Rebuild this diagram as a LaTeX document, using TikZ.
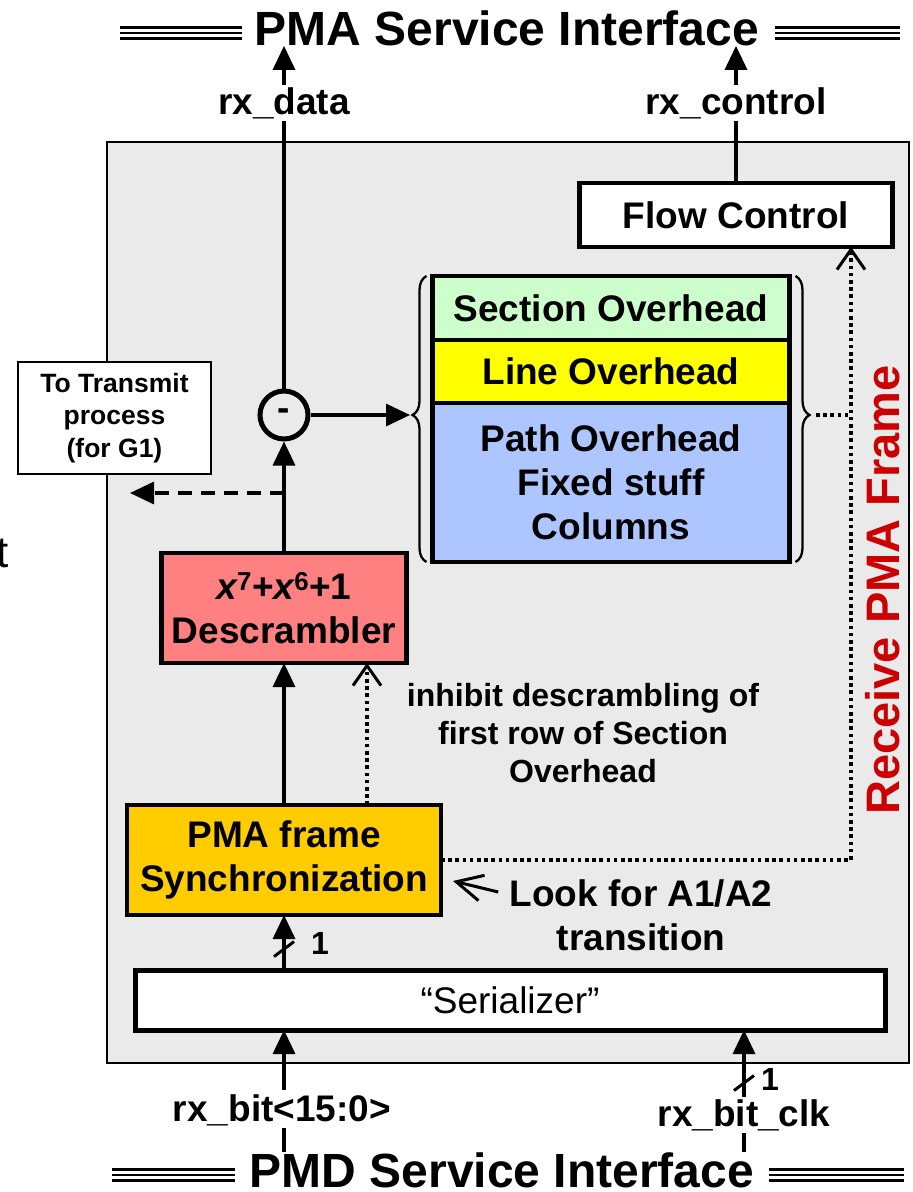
\documentclass[tikz,border=0pt]{standalone}
\usepackage{fontspec}
\setmainfont{Liberation Sans}
\usepackage{tikz}
\usetikzlibrary{arrows.meta,positioning,decorations.pathreplacing}
\definecolor{panel}{HTML}{EAEAEA}
\definecolor{sectbg}{HTML}{CCFFCC}
\definecolor{linebg}{HTML}{FFFF00}
\definecolor{pathbg}{HTML}{ADC6FF}
\definecolor{descbg}{HTML}{FF8080}
\definecolor{syncbg}{HTML}{FFCC00}
\definecolor{rxred}{HTML}{CC0000}
\newcommand{\setfs}[2]{\fontsize{#1}{#2}\selectfont}

\begin{document}
\begin{tikzpicture}[x=1pt,y=-1pt,
  font=\bfseries\setfs{37}{44},
  blk/.style={rectangle, draw, line width=4.5pt, align=center, inner sep=0pt, outer sep=0pt},
  thinbox/.style={rectangle, draw, fill=white, line width=1.8pt, align=center, inner sep=0pt},
  hdr/.style={font=\bfseries\setfs{48}{56}, inner sep=0pt},
  lbl/.style={font=\bfseries\setfs{37}{44}, inner sep=2pt},
  onelbl/.style={font=\bfseries\setfs{32}{38}, inner sep=0pt},
  rule/.style={line width=2.6pt},
  ln/.style={line width=3.3pt},
  arr/.style={ln, -{Triangle[length=24pt,width=22pt]}},
  dasharr/.style={arr, dash pattern=on 14pt off 9pt},
  dotln/.style={line width=3.6pt, dash pattern=on 3.6pt off 3.6pt},
  dotarr/.style={dotln, -{Straight Barb[length=20pt,width=28pt,line width=3pt]}},
  openarr/.style={line width=3pt, -{Straight Barb[length=26pt,width=26pt]}},
  slashln/.style={line width=3pt},
  brc/.style={line width=2.3pt, decorate, decoration={brace, amplitude=14pt}}]

  \useasboundingbox (0,0) rectangle (913,1192);
  % receive panel
  \draw[fill=panel, line width=1.8pt] (107,142) rectangle (909,1063);
  \node[font=\mdseries\setfs{44}{50}, anchor=base east, inner sep=0pt] (tfrag) at (9,567) {t};

  % service interfaces
  \node[hdr] (pma) at (507,28) {PMA Service Interface};
  \node[hdr] (pmd) at (502,1170) {PMD Service Interface};
  \foreach \dy in {0.5,-5,-10.5} {
    \draw[rule] ([xshift=-13pt,yshift=\dy pt]pma.west) -- ++(-122,0);
    \draw[rule] ([xshift=16pt,yshift=\dy pt]pma.east) -- ++(125,0);
    \draw[rule] ([xshift=-15pt,yshift=\dy pt]pmd.west) -- ++(-123,0);
    \draw[rule] ([xshift=15pt,yshift=\dy pt]pmd.east) -- ++(135,0);
  }
  \node[lbl] (rxdata) at (284,103) {rx\_data};
  \node[lbl] (rxctl) at (736,103) {rx\_control};
  \node[lbl] (rxbit) at (282,1110) {rx\_bit<15:0>};
  \node[lbl] (rxclk) at (744,1115) {rx\_bit\_clk};

  % blocks
  \node[blk, fill=white, minimum width=313, minimum height=64] (flow) at (736,215) {Flow Control};
  \node[blk, fill=sectbg, minimum width=357, minimum height=64] (sect) at (611,308) {Section Overhead};
  \node[blk, fill=linebg, minimum width=357, minimum height=63, below=0pt of sect] (lineoh) {Line Overhead};
  \node[blk, fill=pathbg, minimum width=357, minimum height=159, below=0pt of lineoh] (pathoh) {Path Overhead\\Fixed stuff\\Columns};
  \node[circle, draw, line width=5pt, minimum size=48, inner sep=0pt] (minus) at (284,415) {-};
  \node[thinbox, minimum width=193, minimum height=112, font=\bfseries\setfs{26.5}{32.5}] (tx) at (114.5,418) {To Transmit\\process\\(for G1)};
  \node[blk, fill=descbg, minimum width=245, minimum height=110] (desc) at (284,608) {{\itshape x}\textsuperscript{7}+{\itshape x}\textsuperscript{6}+1\\Descrambler};
  \node[blk, fill=syncbg, minimum width=314, minimum height=110] (sync) at (284,860) {PMA frame\\Synchronization};
  \node[blk, line width=5pt, fill=white, minimum width=750, minimum height=60, font=\mdseries\setfs{37}{44}] (ser) at (510,1000) {“Serializer”};
  \node[font=\bfseries\setfs{32}{38}, align=center] (inhibit) at (583,733) {inhibit descrambling of\\first row of Section\\Overhead};
  \node[align=center, inner sep=3pt] (look) at (641,915) {Look for A1/A2\\transition};
  \node[rotate=90, text=rxred, font=\bfseries\setfs{47}{56}] (rxlbl) at (883,590) {Receive PMA Frame};

  % braces round the frame
  \draw[brc, decoration={aspect=0.514}] ([xshift=-6pt]pathoh.south west) -- ([xshift=-6pt]sect.north west);
  \draw[brc, decoration={aspect=0.486}] ([xshift=6pt]sect.north east) -- ([xshift=6pt]pathoh.south east);
  \coordinate (lbtip) at (410,415);
  \coordinate (rbtip) at (816,415);
  \coordinate (bus) at (851,415);
  \coordinate (tap) at (284,493);
  \coordinate (txin) at (130,493);
  \coordinate (looktip) at (453,881);
  \coordinate (bitin) at (284,1090);

  % connectors
  \draw[arr] (rxdata.north) -- (rxdata.north |- pma.south);
  \draw[ln] (rxdata.south) -- (minus.north);
  \draw[arr] (rxctl.north) -- (rxctl.north |- pma.south);
  \draw[ln] (rxctl.south) -- (flow.north);
  \draw[arr] (minus.east) -- (lbtip);
  \draw[arr] (desc.north) -- (minus.south);
  \draw[dasharr] (tap) -- (txin);
  \draw[arr] (sync.north) -- (desc.south);
  \draw[dotarr] ([xshift=83pt]sync.north) -- ([xshift=83pt]desc.south);
  \draw[dotln] (rbtip) -- (bus);
  \draw[dotarr] (sync.east) -| (bus) -- (bus |- flow.south);
  \draw[openarr] ([xshift=-8pt,yshift=23pt]look.west) -- (looktip);
  \draw[arr] (ser.north -| sync.south) -- coordinate[pos=0.38] (b1) (sync.south);
  \draw[slashln] ([xshift=-10pt,yshift=-7.5pt]b1) -- ([xshift=10pt,yshift=7.5pt]b1);
  \node[onelbl] (one1) at ([xshift=36pt,yshift=6pt]b1) {1};
  \draw[arr] (bitin) -- (bitin |- ser.south);
  \draw[ln] (rxbit.south -| bitin) -- (bitin |- pmd.north);
  \draw[arr] (rxclk.north) -- coordinate[pos=0.21] (b2) (rxclk.north |- ser.south);
  \draw[slashln] ([xshift=-10pt,yshift=-7.5pt]b2) -- ([xshift=10pt,yshift=7.5pt]b2);
  \node[onelbl] (one2) at ([xshift=26pt,yshift=4pt]b2) {1};
  \draw[ln] (rxclk.south) -- (rxclk.south |- pmd.north);
\end{tikzpicture}
\end{document}
